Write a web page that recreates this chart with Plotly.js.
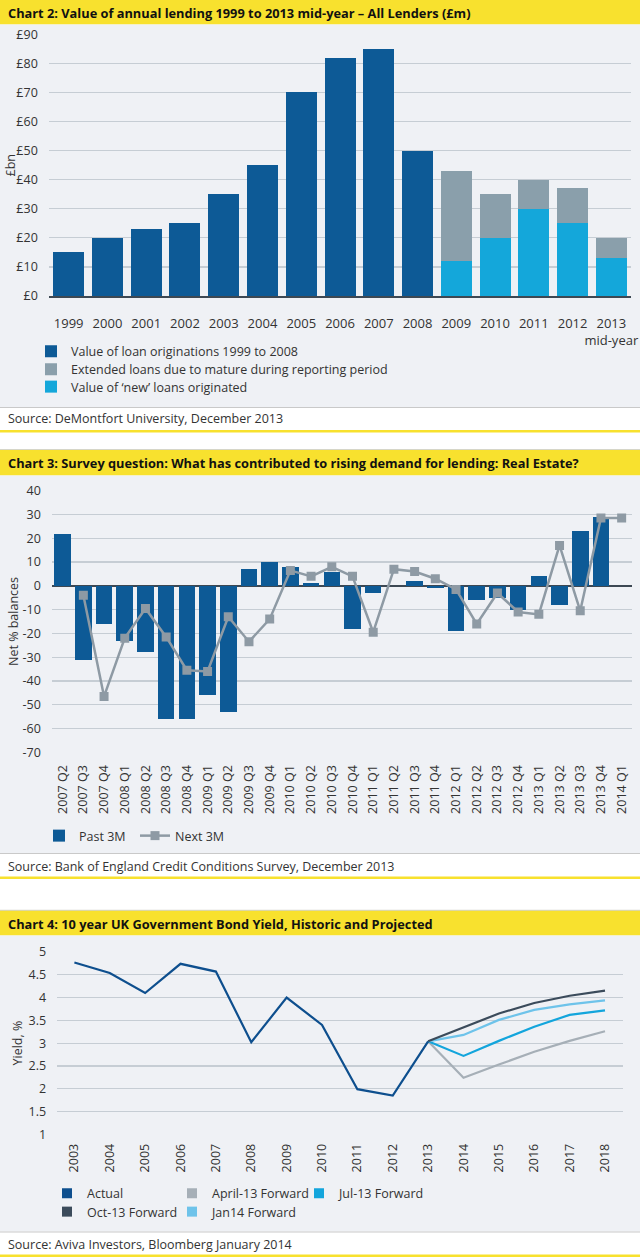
<!DOCTYPE html>
<html><head><meta charset="utf-8">
<script src="https://cdn.plot.ly/plotly-3.0.1.min.js"></script>
<style>html,body{margin:0;padding:0;background:#fff;} #chart{width:640px;height:1257px;}</style>
</head><body><div id="chart"></div>
<script>
// ---------- Chart 2 data ----------
const years2 = ['1999','2000','2001','2002','2003','2004','2005','2006','2007','2008','2009','2010','2011','2012','2013'];
const yearLabels2 = ['1999','2000','2001','2002','2003','2004','2005','2006','2007','2008','2009','2010','2011','2012','2013<br>mid-year'];
const origYears = ['1999','2000','2001','2002','2003','2004','2005','2006','2007','2008'];
const originations = [15,20,23,25,35,45,70,82,85,50];
const recentYears = ['2009','2010','2011','2012','2013'];
const newLoans = [12,20,30,25,13];
const extendedLoans = [31,15,10,12,7];

// ---------- Chart 3 data ----------
const quarters = ['2007 Q2','2007 Q3','2007 Q4','2008 Q1','2008 Q2','2008 Q3','2008 Q4','2009 Q1','2009 Q2','2009 Q3','2009 Q4','2010 Q1','2010 Q2','2010 Q3','2010 Q4','2011 Q1','2011 Q2','2011 Q3','2011 Q4','2012 Q1','2012 Q2','2012 Q3','2012 Q4','2013 Q1','2013 Q2','2013 Q3','2013 Q4','2014 Q1'];
const past3M = [22,-31,-16,-23,-28,-56,-56,-46,-53,7,10,8,1,6,-18,-3,0,2,-1,-19,-6,-5,-10,4,-8,23,29,null];
const next3M = [null,-4,-46.5,-22,-9.5,-21.5,-35.5,-36,-13,-23.5,-14,6.5,4,8,4,-19.5,7,6,3,-1.5,-16,-3,-11,-12,17,-10.5,28.5,28.5];
const yTicks3 = [40,30,20,10,0,-10,-20,-30,-40,-50,-60,-70];
const yTickText3 = ['40','30','20','10','0','-10','-20','-30','-40','-50','-60','-70'];

// ---------- Chart 4 data ----------
const years4 = ['2003','2004','2005','2006','2007','2008','2009','2010','2011','2012','2013','2014','2015','2016','2017','2018'];
const actual = [4.77,4.54,4.10,4.74,4.57,3.02,4.00,3.40,1.99,1.85,3.04,null,null,null,null,null];
const apr13 = [null,null,null,null,null,null,null,null,null,null,3.04,2.24,2.53,2.81,3.05,3.26];
const jul13 = [null,null,null,null,null,null,null,null,null,null,3.04,2.72,3.05,3.36,3.62,3.72];
const oct13 = [null,null,null,null,null,null,null,null,null,null,3.04,3.34,3.65,3.88,4.04,4.15];
const jan14 = [null,null,null,null,null,null,null,null,null,null,3.04,3.18,3.51,3.73,3.85,3.94];

// ---------- styling ----------
const W = 640, H = 1257;
const px = p => p / W;
const py = p => 1 - p / H;
const FONT = 'Open Sans, Noto Sans, sans-serif';
const TXT = '#333333';
const GRID = '#c6cdd4';
const AXISDARK = '#3d4853';
const YELLOW = '#f8e12e';
const PANEL = '#eff1f5';

const C = {
  dark: '#0d5a96', ext: '#8a9fab', newb: '#14a7da', line3: '#8e9aa4',
  actual: '#0e4f8e', oct: '#3b4b5b', jan: '#6ec3ea', jul: '#13a5dc', apr: '#a6afb7'
};

const traces = [
  // Chart 2
  {type:'bar', x: origYears, y: originations, name:'Value of loan originations 1999 to 2008',
   marker:{color:C.dark, line:{width:0}}, xaxis:'x', yaxis:'y', legend:'legend'},
  {type:'bar', x: recentYears, y: newLoans, name:'Value of ‘new’ loans originated',
   marker:{color:C.newb, line:{width:0}}, xaxis:'x', yaxis:'y', legend:'legend3'},
  {type:'bar', x: recentYears, y: extendedLoans, name:'Extended loans due to mature during reporting period',
   marker:{color:C.ext, line:{width:0}}, xaxis:'x', yaxis:'y', legend:'legend2'},
  // Chart 3
  {type:'bar', x: quarters, y: past3M, name:'Past 3M', marker:{color:C.dark, line:{width:0}},
   xaxis:'x2', yaxis:'y2', legend:'legend4'},
  {type:'scatter', mode:'lines+markers', x: quarters, y: next3M, name:'Next 3M',
   line:{color:C.line3, width:2.5}, marker:{symbol:'square', size:9, color:C.line3},
   xaxis:'x2', yaxis:'y2', legend:'legend5'},
  // Chart 4 lines
  {type:'scatter', mode:'lines', x: years4, y: apr13, name:'April-13 Forward', line:{color:C.apr, width:2.2}, xaxis:'x3', yaxis:'y3', showlegend:false},
  {type:'scatter', mode:'lines', x: years4, y: jul13, name:'Jul-13 Forward', line:{color:C.jul, width:2.2}, xaxis:'x3', yaxis:'y3', showlegend:false},
  {type:'scatter', mode:'lines', x: years4, y: jan14, name:'Jan14 Forward', line:{color:C.jan, width:2.2}, xaxis:'x3', yaxis:'y3', showlegend:false},
  {type:'scatter', mode:'lines', x: years4, y: oct13, name:'Oct-13 Forward', line:{color:C.oct, width:2.2}, xaxis:'x3', yaxis:'y3', showlegend:false},
  {type:'scatter', mode:'lines', x: years4, y: actual, name:'Actual', line:{color:C.actual, width:2.2}, xaxis:'x3', yaxis:'y3', showlegend:false},
];
// Chart 4 legend entries (square swatches)
const legend4 = [
  ['Actual', C.actual, 'legend6'], ['April-13 Forward', C.apr, 'legend7'], ['Jul-13 Forward', C.jul, 'legend8'],
  ['Oct-13 Forward', C.oct, 'legend9'], ['Jan14 Forward', C.jan, 'legend10']
];
legend4.forEach(([n, col, lg]) => traces.push({
  type:'scatter', mode:'markers', x:[null], y:[null], name:n, xaxis:'x3', yaxis:'y3',
  marker:{symbol:'square', size:10, color:col}, legend:lg, hoverinfo:'skip'
}));

const tickFont = {family:FONT, size:12.5, color:TXT};
const hideTick = {ticks:'outside', tickcolor:'rgba(0,0,0,0)'};

const shapes = [];
function band(y0, y1, color){ shapes.push({type:'rect', xref:'paper', yref:'paper', x0:0, x1:1, y0:py(y1), y1:py(y0), fillcolor:color, line:{width:0}, layer:'below'}); }
function hline(y, color, w){ shapes.push({type:'line', xref:'paper', yref:'paper', x0:0, x1:1, y0:py(y), y1:py(y), line:{color:color, width:w}, layer:'below'}); }
// chart 2
band(0, 24.5, YELLOW); band(24.5, 407, PANEL); hline(407.5, '#c9c9c9', 1); band(430, 432.5, YELLOW);
// chart 3
hline(449.5, '#d6d6c8', 1); band(450, 475.5, YELLOW); band(475.5, 853, PANEL); hline(853.5, '#c9c9c9', 1); band(876.5, 879, YELLOW);
// chart 4
hline(910.3, '#c9c9c0', 1); band(910.8, 935.5, YELLOW); band(935.5, 1231.5, PANEL); hline(1232, '#c9c9c9', 1); band(1254.5, 1257, YELLOW);

const ann = [];
function text(t, x, y, opts){ ann.push(Object.assign({text:t, xref:'paper', yref:'paper', x:px(x), y:py(y), xanchor:'left', yanchor:'middle', showarrow:false, font:{family:FONT, size:12.5, color:TXT}}, opts||{})); }
const titleFont = {family:FONT, size:12.8, color:'#111', weight:'bold'};
text('Chart 2: Value of annual lending 1999 to 2013 mid-year – All Lenders (£m)', 6, 13, {font:titleFont});
text('Chart 3: Survey question: What has contributed to rising demand for lending: Real Estate?', 6, 463, {font:titleFont});
text('Chart 4: 10 year UK Government Bond Yield, Historic and Projected', 6, 923.5, {font:titleFont});
text('Source: DeMontfort University, December 2013', 6, 418.5);
text('Source: Bank of England Credit Conditions Survey, December 2013', 6, 866);
text('Source: Aviva Investors, Bloomberg January 2014', 6, 1244);
text('£bn', 10.5, 166, {textangle:-90, xanchor:'center'});
text('Net % balances', 13.5, 621.5, {textangle:-90, xanchor:'center'});
text('Yield, %', 16.5, 1043, {textangle:-90, xanchor:'center'});

function lg(x, top){ return {x:px(x), y:py(top), xanchor:'left', yanchor:'top', orientation:'h', bgcolor:'rgba(0,0,0,0)', font:{family:FONT, size:12.5, color:TXT}}; }

const layout = {
  width: W, height: H, margin:{l:0, r:0, t:0, b:0},
  paper_bgcolor:'#ffffff', plot_bgcolor:'rgba(0,0,0,0)',
  font:{family:FONT, size:12.5, color:TXT},
  barmode:'stack', bargap:0.2,
  shapes: shapes, annotations: ann,
  // Chart 2
  xaxis:{domain:[px(49.3), px(630.7)], anchor:'y', type:'category', categoryorder:'array', categoryarray:years2,
         range:[-0.5,14.5], tickvals:years2, ticktext:yearLabels2, tickangle:0, ...hideTick, ticklen:14,
         showgrid:false, showline:true, linecolor:AXISDARK, linewidth:2, tickfont:{family:FONT, size:13, color:TXT}},
  yaxis:{domain:[py(296), py(33.4)], anchor:'x', range:[0,90.3], dtick:10, tick0:0, tickprefix:'£',
         showgrid:true, gridcolor:GRID, gridwidth:1.2, zeroline:false, ...hideTick, ticklen:8, tickfont:tickFont},
  // Chart 3
  xaxis2:{domain:[px(52.3), px(632)], anchor:'y2', type:'category', categoryorder:'array', categoryarray:quarters,
          range:[-0.5,27.5], tickangle:-90, ...hideTick, ticklen:6, showgrid:false, showline:false, tickfont:tickFont},
  yaxis2:{domain:[py(753.2), py(489.8)], anchor:'x2', range:[-70.4,40.4], tickvals:yTicks3, ticktext:yTickText3,
          showgrid:true, gridcolor:GRID, gridwidth:1.2, zeroline:true, zerolinecolor:AXISDARK, zerolinewidth:1.6,
          ...hideTick, ticklen:8, tickfont:tickFont},
  // Chart 4
  xaxis3:{domain:[px(56.7), px(622.7)], anchor:'y3', type:'category', categoryorder:'array', categoryarray:years4,
          range:[-0.5,15.5], tickangle:-90, ...hideTick, ticklen:3, showgrid:false, showline:false, tickfont:tickFont},
  yaxis3:{domain:[py(1134.8), py(951.5)], anchor:'x3', range:[0.99,5.01], dtick:0.5, tick0:1,
          showgrid:true, gridcolor:GRID, gridwidth:1.2, zeroline:false, ...hideTick, ticklen:7, tickfont:tickFont},
  legend: lg(31, 336.5),
  legend2: lg(31, 354.5),
  legend3: lg(31, 372),
  legend4: lg(39, 821),
  legend5: lg(135, 821),
  legend6: lg(47, 1178.5),
  legend7: lg(172, 1178.5),
  legend8: lg(299, 1178.5),
  legend9: lg(47, 1197),
  legend10: lg(172, 1197),
  showlegend:true
};

Plotly.newPlot('chart', traces, layout, {staticPlot:true, displayModeBar:false});
</script>
</body></html>
